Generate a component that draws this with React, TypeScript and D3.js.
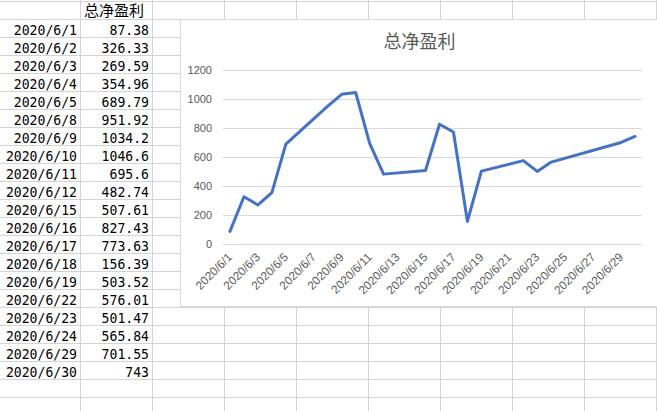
import React from "react";
import * as d3 from "d3";

const title = "总净盈利";
const dates = [
  "2020/6/1", "2020/6/2", "2020/6/3", "2020/6/4", "2020/6/5", "2020/6/8",
  "2020/6/9", "2020/6/10", "2020/6/11", "2020/6/12", "2020/6/15", "2020/6/16",
  "2020/6/17", "2020/6/18", "2020/6/19", "2020/6/22", "2020/6/23", "2020/6/24",
  "2020/6/29", "2020/6/30",
];
const valueLabels = [
  "87.38", "326.33", "269.59", "354.96", "689.79", "951.92", "1034.2", "1046.6",
  "695.6", "482.74", "507.61", "827.43", "773.63", "156.39", "503.52", "576.01",
  "501.47", "565.84", "701.55", "743",
];
const yTicks = [0, 200, 400, 600, 800, 1000, 1200];

const W = 657;
const H = 411;

function parseDate(s: string) {
  const [y, m, d] = s.split("/").map(Number);
  return new Date(y, m - 1, d);
}

export default function App() {
  const values = valueLabels.map(Number);
  const pts = dates.map((d, i) => ({ date: parseDate(d), v: values[i] }));
  const day = 24 * 3600 * 1000;
  const first = parseDate("2020/6/1");
  const last = parseDate("2020/6/30");

  const x = d3
    .scaleTime()
    .domain([new Date(+first - day / 2), new Date(+last + day / 2)])
    .range([223, 642]);
  const y = d3.scaleLinear().domain([0, 1200]).range([244, 70.3]);

  const xTicks = d3.timeDay.range(first, new Date(+last + 1), 2);
  const fmt = (d: Date) => `${d.getFullYear()}/${d.getMonth() + 1}/${d.getDate()}`;

  const line = d3
    .line<{ date: Date; v: number }>()
    .x((d) => x(d.date))
    .y((d) => y(d.v));

  const rowLines = d3.range(1, H, 18);
  const colLines = d3.range(80, W + 1, 72);
  const gridColor = "#d4d4d4";

  return (
    <svg
      width={W}
      height={H}
      style={{ position: "fixed", left: 0, top: 0, background: "#fff" }}
    >
      {/* spreadsheet grid */}
      {rowLines.map((r) => (
        <line key={"r" + r} x1={0} x2={W} y1={r + 0.5} y2={r + 0.5} stroke={gridColor} />
      ))}
      {colLines.map((c) => (
        <line key={"c" + c} x1={c + 0.5} x2={c + 0.5} y1={0} y2={H} stroke={gridColor} />
      ))}

      {/* table */}
      <text x={84} y={16} fontFamily="'Noto Sans CJK SC'" fontSize={15} fill="#000">
        {title}
      </text>
      {dates.map((d, i) => (
        <text
          key={"d" + i}
          x={77}
          y={35 + 18 * i}
          textAnchor="end"
          fontFamily="'DejaVu Sans Mono', monospace"
          fontSize={14.5}
          textLength={d.length * 7.9}
          lengthAdjust="spacingAndGlyphs"
          fill="#000"
        >
          {d}
        </text>
      ))}
      {valueLabels.map((v, i) => (
        <text
          key={"v" + i}
          x={149}
          y={35 + 18 * i}
          textAnchor="end"
          fontFamily="'DejaVu Sans Mono', monospace"
          fontSize={14.5}
          textLength={v.length * 7.9}
          lengthAdjust="spacingAndGlyphs"
          fill="#000"
        >
          {v}
        </text>
      ))}

      {/* chart area */}
      <rect x={180.5} y={19.5} width={490} height={287} fill="#fff" stroke="#d9d9d9" />
      <text
        x={419.5}
        y={48}
        textAnchor="middle"
        fontFamily="'Noto Sans CJK SC'"
        fontSize={18}
        fill="#595959"
      >
        {title}
      </text>
      {yTicks.map((t) => (
        <g key={"y" + t}>
          <line x1={223} x2={642} y1={Math.round(y(t)) + 0.5} y2={Math.round(y(t)) + 0.5} stroke="#d9d9d9" />
          <text
            x={212}
            y={y(t)}
            dy="0.35em"
            textAnchor="end"
            fontFamily="'Liberation Sans', Arial"
            fontSize={11}
            fill="#595959"
          >
            {t}
          </text>
        </g>
      ))}
      {xTicks.map((t, i) => (
        <text
          key={"x" + i}
          transform={`translate(${x(t)},${255}) rotate(-45)`}
          textAnchor="end"
          dy="0.35em"
          fontFamily="'Liberation Sans', Arial"
          fontSize={11.8}
          fill="#595959"
        >
          {fmt(t)}
        </text>
      ))}
      <path
        d={line(pts) || ""}
        fill="none"
        stroke="#4472C4"
        strokeWidth={3}
        strokeLinejoin="round"
        strokeLinecap="round"
      />
    </svg>
  );
}
